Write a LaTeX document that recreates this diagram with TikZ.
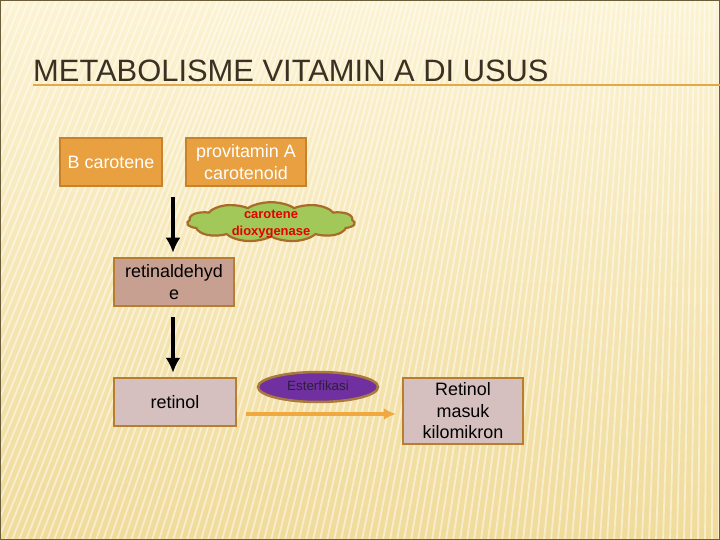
\documentclass[tikz,border=0pt]{standalone}
\usepackage{fontspec}
\setmainfont{Liberation Sans}
\usepackage{tikz}
\usetikzlibrary{arrows.meta,shapes.geometric,shapes.symbols}
\definecolor{slidetop}{HTML}{FCF3D3}
\definecolor{slidebot}{HTML}{F0DB9A}
\definecolor{frameline}{HTML}{6A5E3A}
\definecolor{titletext}{HTML}{3A3122}
\definecolor{rulecol}{HTML}{E2A948}
\definecolor{orangefill}{HTML}{E8A040}
\definecolor{orangeedge}{HTML}{C6822C}
\definecolor{rosefill}{HTML}{C8A091}
\definecolor{palefill}{HTML}{D5BFBF}
\definecolor{brownedge}{HTML}{B87E30}
\definecolor{cloudfill}{HTML}{A2C85A}
\definecolor{cloudedge}{HTML}{A86C28}
\definecolor{esterfill}{HTML}{7030A0}
\definecolor{esteredge}{HTML}{AA7A3C}
\definecolor{estertext}{HTML}{2E1E40}
\definecolor{flowarrow}{HTML}{F0A840}
\newcommand{\squashed}[1]{\raisebox{-10bp}[0pt][0pt]{\scalebox{1}[2.2222]{#1}}}
\tikzset{
  box/.style={draw=orangeedge, line width=2.5bp, fill=orangefill, text=white, align=center, inner sep=0pt, font=\fontsize{18}{21.6}\selectfont},
  rosebox/.style={draw=brownedge, line width=2.5bp, fill=rosefill, text=black, align=center, inner sep=0pt, font=\fontsize{18}{21.6}\selectfont},
  palebox/.style={rosebox, fill=palefill},
  enzyme/.style={cloud, cloud puffs=11, cloud puff arc=120, aspect=2, yscale=0.45, transform shape, draw=cloudedge, line width=2.2bp, fill=cloudfill, text=red!90!black, inner sep=0pt, font=\bfseries\fontsize{13}{16.5}\selectfont},
  process/.style={ellipse, draw=esteredge, line width=2.5bp, fill=esterfill, text=estertext, inner sep=0pt, font=\fontsize{13.4}{16}\selectfont},
  arrow/.style={-{Latex[length=15bp,width=15bp]}, line width=3.5bp, black},
  flow/.style={-{Latex[length=12bp,width=12bp]}, line width=3.5bp, flowarrow}
}
\begin{document}
\begin{tikzpicture}[x=1bp, y=-1bp]
\useasboundingbox (0,0) rectangle (720,540);
% slide background
\shade[top color=slidetop, bottom color=slidebot] (0,0) rectangle (720,540);
\foreach \s in {-240,-233,...,720}
  \draw[white, opacity=0.5, line width=1.8bp] (\s,540) -- ({\s+220*(1-max(\s,0)/720)},0);
\draw[frameline, line width=2bp] (0,0) rectangle (720,540);
% title
\node[anchor=base west, inner sep=0pt, text=titletext, font=\fontsize{31}{36}\selectfont] (title) at (33,82) {METABOLISME VITAMIN A DI USUS};
\draw[rulecol, line width=1.2bp] (title.south west |- 0,85) -- (720,85);
% top row
\node[box, minimum width=102bp, minimum height=48bp] (bcar) at (111,162) {B carotene};
\node[box, minimum width=120bp, minimum height=48bp] (prov) at (246,162) {provitamin A\\carotenoid};
% enzyme
\node[enzyme, minimum width=168bp, minimum height=88bp] (dioxy) at (271,222) {\squashed{\begin{tabular}{@{}c@{}}carotene\\dioxygenase\end{tabular}}};
% chain
\node[rosebox, minimum width=120bp, minimum height=48bp] (retald) at (174,282) {retinaldehyd\\e};
\node[palebox, minimum width=122bp, minimum height=48bp] (retinol) at (175,402) {retinol};
\node[palebox, minimum width=120bp, minimum height=66bp] (kilo) at (463,411) {Retinol\\masuk\\kilomikron};
\node[process, minimum width=120bp, minimum height=30bp] (ester) at (318,387) {\raisebox{2bp}{Esterfikasi}};
% arrows
\coordinate (split) at (173,197);
\draw[arrow, shorten >=4bp] (split) -- (split |- retald.north);
\draw[arrow, shorten <=10bp, shorten >=4bp] (retald.south -| split) -- (retinol.north -| split);
\draw[flow, shorten <=9bp, shorten >=6bp] (retinol.east |- 0,414) -- (kilo.west |- 0,414);
\end{tikzpicture}
\end{document}
